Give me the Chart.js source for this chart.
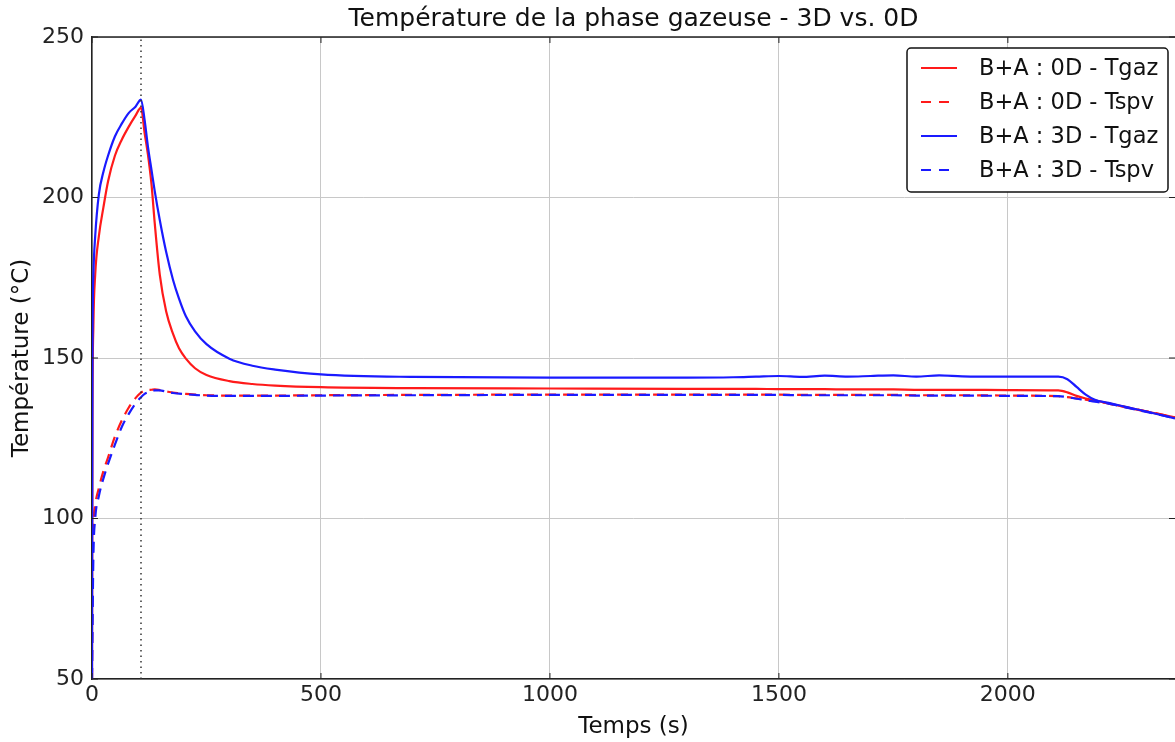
<!DOCTYPE html>
<html>
<head>
<meta charset="utf-8">
<script src="https://cdn.jsdelivr.net/npm/chart.js@4"></script>
<style>
  html, body { margin: 0; padding: 0; background: #fff; overflow: hidden; }
  canvas { display: block; }
</style>
</head>
<body>
<canvas id="tempChart" width="1175" height="742"></canvas>
<script>
// time samples (s), shared by the four curves
const temps = [0, 1, 3, 7, 15, 25, 35, 50, 65, 80, 95, 107, 115, 122, 130, 137, 148, 162, 177, 190, 205, 225, 250, 300, 350, 400, 500, 700, 1000, 1300, 1400, 1450, 1500, 1550, 1600, 1650, 1700, 1750, 1800, 1850, 1900, 2000, 2110, 2130, 2150, 2170, 2190, 2220, 2260, 2300, 2365];

const gaz0D = [50, 130, 160, 176, 188, 197, 205, 213, 218, 222, 225.5, 228, 220, 213.5, 204, 192, 176, 164.5, 157.5, 153, 149.8, 146.8, 144.7, 142.8, 141.9, 141.4, 140.9, 140.6, 140.5, 140.4, 140.4, 140.4, 140.3, 140.3, 140.3, 140.2, 140.2, 140.2, 140.1, 140.1, 140.1, 140, 139.9, 139.3, 138.2, 137.4, 136.8, 135.9, 134.6, 133.4, 131.5];
const spv0D = [50, 80, 97, 104, 109.5, 114.8, 119, 125.5, 130.5, 134.5, 137.5, 139.2, 139.8, 140, 140.1, 140.2, 140, 139.6, 139.2, 139, 138.8, 138.6, 138.4, 138.3, 138.3, 138.3, 138.4, 138.5, 138.6, 138.6, 138.6, 138.6, 138.6, 138.5, 138.5, 138.5, 138.5, 138.5, 138.4, 138.4, 138.4, 138.3, 138.1, 137.8, 137.4, 137, 136.6, 135.8, 134.6, 133.5, 131.5];
const gaz3D = [50, 150, 176, 188, 201, 208, 213, 219, 223, 226.3, 228.3, 230.5, 224, 216, 208.5, 202, 193, 183, 174.3, 168.5, 163, 158.3, 154.3, 149.8, 147.6, 146.4, 144.9, 144.1, 143.9, 143.9, 144, 144.2, 144.4, 144.1, 144.5, 144.2, 144.4, 144.6, 144.2, 144.6, 144.3, 144.2, 144.2, 143.4, 141, 138.6, 137, 136, 134.7, 133.4, 131.2];
const spv3D = [50, 65, 88, 100, 107, 112.5, 117, 123, 128.5, 132.5, 135.8, 137.8, 138.8, 139.3, 139.7, 139.9, 139.9, 139.5, 139.1, 138.9, 138.7, 138.5, 138.3, 138.2, 138.2, 138.2, 138.3, 138.4, 138.5, 138.5, 138.5, 138.5, 138.5, 138.4, 138.4, 138.4, 138.4, 138.4, 138.3, 138.3, 138.3, 138.2, 138.1, 137.8, 137.3, 136.9, 136.4, 135.8, 134.5, 133.3, 131.2];

const seriesLabels = ['B+A : 0D - Tgaz', 'B+A : 0D - Tspv', 'B+A : 3D - Tgaz', 'B+A : 3D - Tspv'];
const markerTime = 107;
const xTicks = [0, 500, 1000, 1500, 2000];
const yTicks = [50, 100, 150, 200, 250];

const FONT = '"DejaVu Sans", sans-serif';
const DASH = [11, 7];

function pts(ys) {
    return temps.map((t, i) => ({ x: t, y: ys[i] }));
}

function line(label, ys, color, dashed, order) {
    return {
        label: label,
        data: pts(ys),
        borderColor: color,
        backgroundColor: color,
        borderWidth: 2.2,
        borderDash: dashed ? DASH : [],
        pointRadius: 0,
        cubicInterpolationMode: 'monotone',
        fill: false,
        order: order
    };
}

// frame top, inner tick marks and boxed legend
const framePlugin = {
    id: 'frame',
    afterDatasetsDraw(chart) {
        const ctx = chart.ctx;
        const a = chart.chartArea;
        const xs = chart.scales.x, ys = chart.scales.y;
        ctx.save();
        ctx.strokeStyle = '#222';
        ctx.lineWidth = 1.5;
        ctx.beginPath();
        ctx.moveTo(a.left, a.top);
        ctx.lineTo(a.right, a.top);
        ctx.stroke();

        ctx.lineWidth = 1;
        ctx.beginPath();
        xTicks.forEach(v => {
            const px = xs.getPixelForValue(v);
            ctx.moveTo(px, a.bottom); ctx.lineTo(px, a.bottom - 6);
            ctx.moveTo(px, a.top); ctx.lineTo(px, a.top + 6);
        });
        yTicks.forEach(v => {
            const py = ys.getPixelForValue(v);
            ctx.moveTo(a.left, py); ctx.lineTo(a.left + 6, py);
            ctx.moveTo(a.right, py); ctx.lineTo(a.right - 6, py);
        });
        ctx.stroke();

        // legend
        const bw = 261, bh = 144;
        const bx = a.right - 7 - bw, by = a.top + 11;
        ctx.fillStyle = '#fff';
        ctx.strokeStyle = '#111';
        ctx.lineWidth = 1.5;
        ctx.beginPath();
        ctx.roundRect(bx, by, bw, bh, 4);
        ctx.fill();
        ctx.stroke();

        const sets = chart.data.datasets.slice(0, 4);
        ctx.font = '22.5px ' + FONT;
        ctx.textBaseline = 'middle';
        ctx.textAlign = 'left';
        sets.forEach((ds, i) => {
            const ry = by + 20 + i * 34;
            ctx.strokeStyle = ds.borderColor;
            ctx.lineWidth = 2;
            ctx.setLineDash(ds.borderDash.length ? [10, 8] : []);
            ctx.beginPath();
            ctx.moveTo(bx + 14, ry);
            ctx.lineTo(bx + 50, ry);
            ctx.stroke();
            ctx.setLineDash([]);
            ctx.fillStyle = '#111';
            ctx.fillText(ds.label, bx + 72, ry + 1);
        });
        ctx.restore();
    }
};

const canvas = document.getElementById('tempChart');
new Chart(canvas.getContext('2d'), {
    type: 'line',
    data: {
        datasets: [
            line(seriesLabels[0], gaz0D, '#ff1a1a', false, 4),
            line(seriesLabels[1], spv0D, '#ff1a1a', true, 3),
            line(seriesLabels[2], gaz3D, '#1a1aff', false, 2),
            line(seriesLabels[3], spv3D, '#1a1aff', true, 1),
            {
                label: 'marker',
                data: [{ x: markerTime, y: 50 }, { x: markerTime, y: 250 }],
                borderColor: '#333',
                borderWidth: 1.5,
                borderDash: [1.5, 4],
                pointRadius: 0,
                fill: false,
                order: 0
            }
        ]
    },
    options: {
        responsive: false,
        animation: false,
        devicePixelRatio: 1,
        layout: { padding: 0 },
        plugins: {
            legend: { display: false },
            tooltip: { enabled: false },
            title: {
                display: true,
                text: 'Température de la phase gazeuse - 3D vs. 0D',
                fullSize: false,
                color: '#111',
                font: { family: FONT, size: 25, weight: 'normal' },
                padding: { top: 4, bottom: 3 }
            }
        },
        scales: {
            x: {
                type: 'linear',
                min: 0,
                max: 2365,
                afterBuildTicks: s => { s.ticks = xTicks.map(v => ({ value: v })); },
                afterFit: s => { s.height = 63; },
                ticks: {
                    color: '#222',
                    font: { family: FONT, size: 22 },
                    padding: 3,
                    maxRotation: 0,
                    autoSkip: false,
                    callback: v => String(v)
                },
                grid: { color: '#c8c8c8', lineWidth: 1, drawTicks: false },
                border: { color: '#222', width: 1.5 },
                title: {
                    display: true,
                    text: 'Temps (s)',
                    color: '#111',
                    font: { family: FONT, size: 23 },
                    padding: { top: 0, bottom: 1 }
                }
            },
            y: {
                min: 50,
                max: 250,
                afterBuildTicks: s => { s.ticks = yTicks.map(v => ({ value: v })); },
                afterFit: s => { s.width = 92; },
                ticks: {
                    color: '#222',
                    font: { family: FONT, size: 22 },
                    padding: 8,
                    callback: v => String(v)
                },
                grid: { color: '#c8c8c8', lineWidth: 1, drawTicks: false },
                border: { color: '#222', width: 1.5 },
                title: {
                    display: true,
                    text: 'Température (°C)',
                    color: '#111',
                    font: { family: FONT, size: 23 },
                    padding: { top: 8, bottom: 0 }
                }
            }
        }
    },
    plugins: [framePlugin]
});
</script>
</body>
</html>
